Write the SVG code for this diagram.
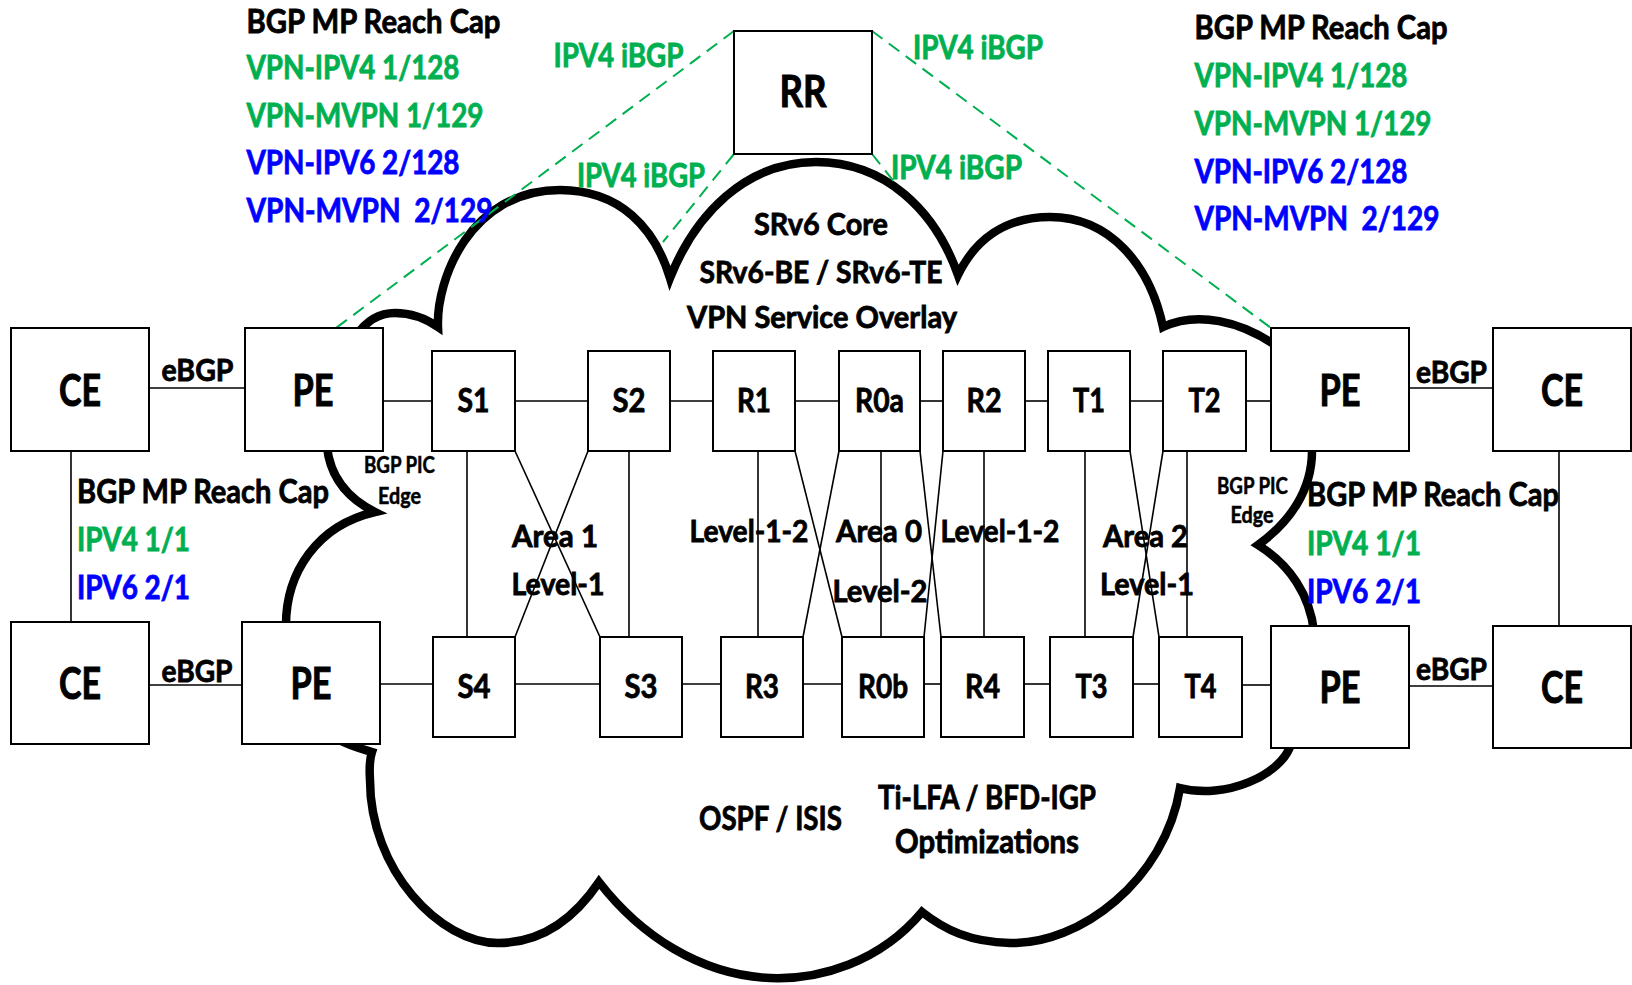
<svg xmlns="http://www.w3.org/2000/svg" width="1632" height="985" viewBox="0 0 1632 985">
<style>
.bg{fill:#fff}
.cloud{fill:#fff;stroke:#000;stroke-width:8.5;stroke-linejoin:miter;stroke-miterlimit:10}
.box{fill:#fff;stroke:#000;stroke-width:2}
.ln{stroke:#000;stroke-width:1.6;fill:none}
.dash{stroke:#00B050;stroke-width:2;stroke-dasharray:13 8;fill:none}
text{font-family:Lato,"Liberation Sans",sans-serif;font-weight:700;fill:#000;stroke:#000;stroke-width:0.8}
.big{font-size:43px;text-anchor:middle;stroke-width:1}
.nd{font-size:32px;text-anchor:middle}
.ann{font-size:32.5px}
.lbl{font-size:30px}
.sm{font-size:22px;text-anchor:middle;stroke-width:0.5}
.mid{text-anchor:middle}
.g{fill:#00B050;stroke:#00B050}
.b{fill:#0000FF;stroke:#0000FF}
</style>
<rect class="bg" x="0" y="0" width="1632" height="985"/>

<g id="cloud">
<path class="cloud" d="M356,336 C368,318 382,313 395,313 C410,313 425,318 438,327 C436,280 470,190 560,190 C620,190 655,228 670,278 C695,215 745,162 816,162 C885,162 935,210 958,275 C975,240 1005,217 1050,217 C1110,217 1150,265 1163,327 C1195,312 1240,318 1285,352 L1312,451 C1312,490 1290,522 1258,545 C1290,565 1310,595 1314,632 L1291,744 C1282,775 1225,800 1180,788 C1165,880 1080,945 1010,943 C970,942 945,930 922,912 C880,962 820,980 770,978 C700,975 640,935 599,882 C570,925 535,943 498,943 C440,943 370,870 370,780 C369,765 370,758 372,752 C362,749 350,746 335,738 L286,628 C285,572 318,525 375,512 C345,497 330,475 327,447 Z"/>
<text class="lbl mid" x="821" y="235" textLength="134" lengthAdjust="spacingAndGlyphs">SRv6 Core</text>
<text class="lbl mid" x="821" y="283" textLength="243" lengthAdjust="spacingAndGlyphs">SRv6-BE / SRv6-TE</text>
<text class="lbl mid" x="822" y="328" textLength="270" lengthAdjust="spacingAndGlyphs">VPN Service Overlay</text>
<text class="lbl" x="699" y="830" style="font-size:32px" textLength="143" lengthAdjust="spacingAndGlyphs">OSPF / ISIS</text>
<text class="lbl mid" x="987" y="809" style="font-size:31.5px" textLength="218" lengthAdjust="spacingAndGlyphs">Ti-LFA / BFD-IGP</text>
<text class="lbl mid" x="987" y="853" style="font-size:31.5px" textLength="184" lengthAdjust="spacingAndGlyphs">Optimizations</text>
</g>

<g id="connectors">
<line class="ln" x1="149" y1="388" x2="245" y2="388"/>
<line class="ln" x1="383" y1="401" x2="432" y2="401"/>
<line class="ln" x1="515" y1="401" x2="588" y2="401"/>
<line class="ln" x1="670" y1="401" x2="713" y2="401"/>
<line class="ln" x1="795" y1="401" x2="839" y2="401"/>
<line class="ln" x1="920" y1="401" x2="943" y2="401"/>
<line class="ln" x1="1025" y1="401" x2="1048" y2="401"/>
<line class="ln" x1="1130" y1="401" x2="1163" y2="401"/>
<line class="ln" x1="1246" y1="401" x2="1271" y2="401"/>
<line class="ln" x1="1409" y1="388" x2="1493" y2="388"/>
<line class="ln" x1="149" y1="685" x2="242" y2="685"/>
<line class="ln" x1="380" y1="684" x2="433" y2="684"/>
<line class="ln" x1="515" y1="684" x2="600" y2="684"/>
<line class="ln" x1="682" y1="684" x2="721" y2="684"/>
<line class="ln" x1="803" y1="684" x2="842" y2="684"/>
<line class="ln" x1="924" y1="684" x2="941" y2="684"/>
<line class="ln" x1="1024" y1="684" x2="1050" y2="684"/>
<line class="ln" x1="1133" y1="684" x2="1159" y2="684"/>
<line class="ln" x1="1242" y1="685" x2="1271" y2="685"/>
<line class="ln" x1="1409" y1="686" x2="1493" y2="686"/>
<line class="ln" x1="71" y1="451" x2="71" y2="622"/>
<line class="ln" x1="1559" y1="451" x2="1559" y2="626"/>
<line class="ln" x1="467" y1="451" x2="467" y2="637"/>
<line class="ln" x1="629" y1="451" x2="629" y2="637"/>
<line class="ln" x1="758" y1="451" x2="758" y2="637"/>
<line class="ln" x1="881" y1="451" x2="881" y2="637"/>
<line class="ln" x1="984" y1="451" x2="984" y2="637"/>
<line class="ln" x1="1085" y1="451" x2="1085" y2="637"/>
<line class="ln" x1="1187" y1="451" x2="1187" y2="637"/>
<line class="ln" x1="515" y1="451" x2="600" y2="637"/>
<line class="ln" x1="588" y1="451" x2="515" y2="637"/>
<line class="ln" x1="795" y1="451" x2="842" y2="637"/>
<line class="ln" x1="839" y1="451" x2="803" y2="637"/>
<line class="ln" x1="920" y1="451" x2="941" y2="637"/>
<line class="ln" x1="943" y1="451" x2="924" y2="637"/>
<line class="ln" x1="1130" y1="451" x2="1159" y2="637"/>
<line class="ln" x1="1163" y1="451" x2="1133" y2="637"/>
<line class="dash" x1="734" y1="31" x2="336" y2="328"/>
<line class="dash" x1="872" y1="31" x2="1271" y2="328"/>
<line class="dash" x1="734" y1="154" x2="663" y2="242"/>
<line class="dash" x1="872" y1="154" x2="895" y2="183"/>
<text class="lbl" x="161.5" y="381" textLength="72" lengthAdjust="spacingAndGlyphs">eBGP</text>
<text class="lbl" x="161.5" y="682" textLength="71" lengthAdjust="spacingAndGlyphs">eBGP</text>
<text class="lbl" x="1416" y="383" textLength="71" lengthAdjust="spacingAndGlyphs">eBGP</text>
<text class="lbl" x="1416" y="680" textLength="71" lengthAdjust="spacingAndGlyphs">eBGP</text>
<text class="ann g" x="553.5" y="67" textLength="130" lengthAdjust="spacingAndGlyphs">IPV4 iBGP</text>
<text class="ann g" x="913" y="59" textLength="130" lengthAdjust="spacingAndGlyphs">IPV4 iBGP</text>
<text class="ann g" x="577" y="187" textLength="128" lengthAdjust="spacingAndGlyphs">IPV4 iBGP</text>
<text class="ann g" x="891" y="179" textLength="131" lengthAdjust="spacingAndGlyphs">IPV4 iBGP</text>
</g>

<g id="CE1"><rect class="box" x="11" y="328" width="138" height="123"/><text class="big" x="80" y="406" textLength="42" lengthAdjust="spacingAndGlyphs">CE</text></g>
<g id="PE1"><rect class="box" x="245" y="328" width="138" height="123"/><text class="big" x="313" y="406" textLength="41" lengthAdjust="spacingAndGlyphs">PE</text></g>
<g id="CE2"><rect class="box" x="11" y="622" width="138" height="122"/><text class="big" x="80" y="699" textLength="42" lengthAdjust="spacingAndGlyphs">CE</text></g>
<g id="PE2"><rect class="box" x="242" y="622" width="138" height="122"/><text class="big" x="311" y="699" textLength="41" lengthAdjust="spacingAndGlyphs">PE</text></g>
<g id="PE3"><rect class="box" x="1271" y="328" width="138" height="123"/><text class="big" x="1340" y="406" textLength="41" lengthAdjust="spacingAndGlyphs">PE</text></g>
<g id="PE4"><rect class="box" x="1271" y="626" width="138" height="122"/><text class="big" x="1340" y="703" textLength="41" lengthAdjust="spacingAndGlyphs">PE</text></g>
<g id="CE3"><rect class="box" x="1493" y="328" width="138" height="123"/><text class="big" x="1562" y="406" textLength="42" lengthAdjust="spacingAndGlyphs">CE</text></g>
<g id="CE4"><rect class="box" x="1493" y="626" width="138" height="122"/><text class="big" x="1562" y="703" textLength="42" lengthAdjust="spacingAndGlyphs">CE</text></g>
<g id="RR"><rect class="box" x="734" y="31" width="138" height="123"/><text class="big" x="803" y="107" textLength="47" lengthAdjust="spacingAndGlyphs">RR</text></g>

<g id="S1"><rect class="box" x="432" y="351" width="83" height="100"/><text class="nd" x="473.5" y="412" textLength="32" lengthAdjust="spacingAndGlyphs">S1</text></g>
<g id="S2"><rect class="box" x="588" y="351" width="82" height="100"/><text class="nd" x="629" y="412" textLength="33" lengthAdjust="spacingAndGlyphs">S2</text></g>
<g id="R1"><rect class="box" x="713" y="351" width="82" height="100"/><text class="nd" x="754" y="412" textLength="34" lengthAdjust="spacingAndGlyphs">R1</text></g>
<g id="R0a"><rect class="box" x="839" y="351" width="81" height="100"/><text class="nd" x="879.5" y="412" textLength="49" lengthAdjust="spacingAndGlyphs">R0a</text></g>
<g id="R2"><rect class="box" x="943" y="351" width="82" height="100"/><text class="nd" x="984" y="412" textLength="35" lengthAdjust="spacingAndGlyphs">R2</text></g>
<g id="T1"><rect class="box" x="1048" y="351" width="82" height="100"/><text class="nd" x="1089" y="412" textLength="32" lengthAdjust="spacingAndGlyphs">T1</text></g>
<g id="T2"><rect class="box" x="1163" y="351" width="83" height="100"/><text class="nd" x="1204.5" y="412" textLength="32" lengthAdjust="spacingAndGlyphs">T2</text></g>
<g id="S4"><rect class="box" x="433" y="637" width="82" height="100"/><text class="nd" x="474" y="698" textLength="33" lengthAdjust="spacingAndGlyphs">S4</text></g>
<g id="S3"><rect class="box" x="600" y="637" width="82" height="100"/><text class="nd" x="641" y="698" textLength="33" lengthAdjust="spacingAndGlyphs">S3</text></g>
<g id="R3"><rect class="box" x="721" y="637" width="82" height="100"/><text class="nd" x="762" y="698" textLength="34" lengthAdjust="spacingAndGlyphs">R3</text></g>
<g id="R0b"><rect class="box" x="842" y="637" width="82" height="100"/><text class="nd" x="883" y="698" textLength="50" lengthAdjust="spacingAndGlyphs">R0b</text></g>
<g id="R4"><rect class="box" x="941" y="637" width="83" height="100"/><text class="nd" x="982.5" y="698" textLength="35" lengthAdjust="spacingAndGlyphs">R4</text></g>
<g id="T3"><rect class="box" x="1050" y="637" width="83" height="100"/><text class="nd" x="1091.5" y="698" textLength="32" lengthAdjust="spacingAndGlyphs">T3</text></g>
<g id="T4"><rect class="box" x="1159" y="637" width="83" height="100"/><text class="nd" x="1200.5" y="698" textLength="32" lengthAdjust="spacingAndGlyphs">T4</text></g>

<g id="areas">
<text class="lbl" x="512" y="547" textLength="86" lengthAdjust="spacingAndGlyphs">Area 1</text>
<text class="lbl" x="511.5" y="595" textLength="93" lengthAdjust="spacingAndGlyphs">Level-1</text>
<text class="lbl" x="689.5" y="542" textLength="119" lengthAdjust="spacingAndGlyphs">Level-1-2</text>
<text class="lbl" x="836" y="542" textLength="86" lengthAdjust="spacingAndGlyphs">Area 0</text>
<text class="lbl" x="832.5" y="602" textLength="95" lengthAdjust="spacingAndGlyphs">Level-2</text>
<text class="lbl" x="940.5" y="542" textLength="119" lengthAdjust="spacingAndGlyphs">Level-1-2</text>
<text class="lbl" x="1103" y="547" textLength="85" lengthAdjust="spacingAndGlyphs">Area 2</text>
<text class="lbl" x="1100" y="595" textLength="94" lengthAdjust="spacingAndGlyphs">Level-1</text>
<text class="sm" x="399.5" y="473" textLength="71" lengthAdjust="spacingAndGlyphs">BGP PIC</text>
<text class="sm" x="399.5" y="504" textLength="43" lengthAdjust="spacingAndGlyphs">Edge</text>
<text class="sm" x="1252.5" y="494" textLength="71" lengthAdjust="spacingAndGlyphs">BGP PIC</text>
<text class="sm" x="1252" y="523" textLength="43" lengthAdjust="spacingAndGlyphs">Edge</text>
</g>

<g id="caps-top-left">
<text class="ann" x="246.5" y="33" textLength="254" lengthAdjust="spacingAndGlyphs">BGP MP Reach Cap</text>
<text class="ann g" x="246.5" y="79" textLength="213" lengthAdjust="spacingAndGlyphs">VPN-IPV4 1/128</text>
<text class="ann g" x="246.5" y="127" textLength="237" lengthAdjust="spacingAndGlyphs">VPN-MVPN 1/129</text>
<text class="ann b" x="246.5" y="174" textLength="213" lengthAdjust="spacingAndGlyphs">VPN-IPV6 2/128</text>
<text class="ann b" x="246.5" y="222" xml:space="preserve" textLength="246" lengthAdjust="spacingAndGlyphs">VPN-MVPN  2/129</text>
</g>
<g id="caps-top-right">
<text class="ann" x="1194.5" y="39" textLength="253" lengthAdjust="spacingAndGlyphs">BGP MP Reach Cap</text>
<text class="ann g" x="1194.5" y="87" textLength="213" lengthAdjust="spacingAndGlyphs">VPN-IPV4 1/128</text>
<text class="ann g" x="1194.5" y="135" textLength="237" lengthAdjust="spacingAndGlyphs">VPN-MVPN 1/129</text>
<text class="ann b" x="1194.5" y="183" textLength="213" lengthAdjust="spacingAndGlyphs">VPN-IPV6 2/128</text>
<text class="ann b" x="1194.5" y="230" xml:space="preserve" textLength="245" lengthAdjust="spacingAndGlyphs">VPN-MVPN  2/129</text>
</g>
<g id="caps-left">
<text class="ann" x="77" y="503" textLength="252" lengthAdjust="spacingAndGlyphs">BGP MP Reach Cap</text>
<text class="ann g" x="77" y="551" textLength="113" lengthAdjust="spacingAndGlyphs">IPV4 1/1</text>
<text class="ann b" x="77" y="599" textLength="113" lengthAdjust="spacingAndGlyphs">IPV6 2/1</text>
</g>
<g id="caps-right">
<text class="ann" x="1307" y="506" textLength="252" lengthAdjust="spacingAndGlyphs">BGP MP Reach Cap</text>
<text class="ann g" x="1307" y="555" textLength="114" lengthAdjust="spacingAndGlyphs">IPV4 1/1</text>
<text class="ann b" x="1307" y="603" textLength="114" lengthAdjust="spacingAndGlyphs">IPV6 2/1</text>
</g>
</svg>
